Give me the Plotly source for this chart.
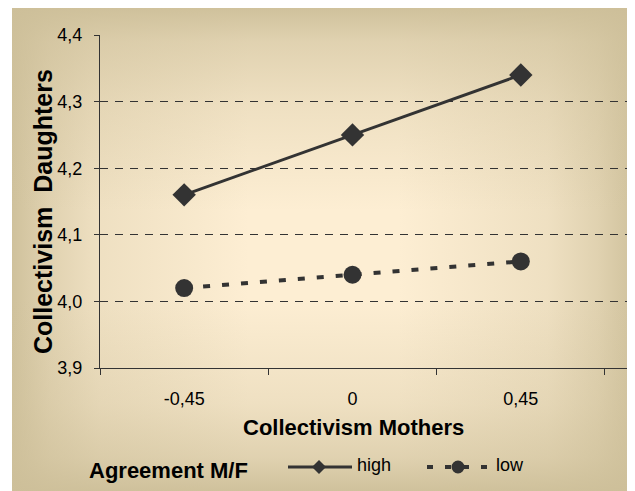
import base64
import plotly.graph_objects as go

# ---- data ----
categories = ["-0,45", "0", "0,45"]
high_values = [4.16, 4.25, 4.34]
low_values = [4.02, 4.04, 4.06]
y_ticks = [3.9, 4.0, 4.1, 4.2, 4.3, 4.4]
series_names = ["high", "low"]

# the page body has an 8px margin; figure coordinates = window coordinates - 8
OFF = 8
W, H = 635 - OFF, 491 - OFF
L, R, T, B = 100 - OFF, 635 - OFF, 35 - OFF, 368 - OFF  # plot area (figure px)
PW, PH = R - L, B - T


def px(xw):
    """window x pixel -> paper x"""
    return (xw - OFF - L) / PW


def py(yw):
    """window y pixel -> paper y"""
    return (B - (yw - OFF)) / PH


INK = "#333333"
FONT = "Liberation Sans, Arial, sans-serif"

# gradient background (Excel-like "from centre" fill)
tan = "#cdbf99"
svg = f"""<svg xmlns='http://www.w3.org/2000/svg' width='623' height='484' viewBox='0 0 623 484' preserveAspectRatio='none'>
<defs>
<linearGradient id='h' x1='0' y1='0' x2='1' y2='0'>
<stop offset='0' stop-color='{tan}' stop-opacity='0.95'/>
<stop offset='0.06' stop-color='{tan}' stop-opacity='0.6'/>
<stop offset='0.14' stop-color='{tan}' stop-opacity='0.3'/>
<stop offset='0.38' stop-color='{tan}' stop-opacity='0'/>
<stop offset='0.62' stop-color='{tan}' stop-opacity='0'/>
<stop offset='0.86' stop-color='{tan}' stop-opacity='0.3'/>
<stop offset='0.94' stop-color='{tan}' stop-opacity='0.6'/>
<stop offset='1' stop-color='{tan}' stop-opacity='0.95'/>
</linearGradient>
<linearGradient id='v' x1='0' y1='0' x2='0' y2='1'>
<stop offset='0' stop-color='{tan}' stop-opacity='0.95'/>
<stop offset='0.07' stop-color='{tan}' stop-opacity='0.6'/>
<stop offset='0.2' stop-color='{tan}' stop-opacity='0.3'/>
<stop offset='0.42' stop-color='{tan}' stop-opacity='0'/>
<stop offset='0.6' stop-color='{tan}' stop-opacity='0'/>
<stop offset='0.82' stop-color='{tan}' stop-opacity='0.3'/>
<stop offset='0.93' stop-color='{tan}' stop-opacity='0.6'/>
<stop offset='1' stop-color='{tan}' stop-opacity='0.95'/>
</linearGradient>
</defs>
<rect width='623' height='484' fill='#fdeed3'/>
<rect width='623' height='484' fill='url(#h)'/>
<rect width='623' height='484' fill='url(#v)'/>
</svg>"""
src = "data:image/svg+xml;base64," + base64.b64encode(svg.encode()).decode()

fig = go.Figure()
fig.add_trace(go.Scatter(
    x=categories, y=high_values, name=series_names[0], mode="lines+markers",
    line=dict(color=INK, width=3),
    marker=dict(symbol="diamond", size=18, color=INK),
    showlegend=False,
))
fig.add_trace(go.Scatter(
    x=categories, y=low_values, name=series_names[1], mode="lines+markers",
    line=dict(color=INK, width=4, dash="7px,12px"),
    marker=dict(symbol="circle", size=18, color=INK),
    showlegend=False,
))

fig.add_layout_image(dict(
    source=src, xref="paper", yref="paper",
    x=px(12), y=py(8), sizex=(635 - 12) / PW, sizey=(491 - 8) / PH,
    xanchor="left", yanchor="top", sizing="stretch", layer="below",
))

# manual legend (window pixel positions)
shapes = []
LY = 467
ly = py(LY)
shapes.append(dict(type="line", xref="paper", yref="paper",
                   x0=px(288), x1=px(352), y0=ly, y1=ly,
                   line=dict(color=INK, width=3)))
d = 7
shapes.append(dict(type="path", xref="paper", yref="paper",
                   path=f"M {px(319 - d)} {ly} L {px(319)} {py(LY - d)} L {px(319 + d)} {ly} L {px(319)} {py(LY + d)} Z",
                   fillcolor=INK, line=dict(color=INK, width=0)))
shapes.append(dict(type="line", xref="paper", yref="paper",
                   x0=px(427), x1=px(489), y0=ly, y1=ly,
                   line=dict(color=INK, width=4, dash="6px,12px")))
r = 6.5
shapes.append(dict(type="circle", xref="paper", yref="paper",
                   x0=px(458 - r), x1=px(458 + r), y0=py(LY + r), y1=py(LY - r),
                   fillcolor=INK, line=dict(color=INK, width=0)))

annotations = [
    dict(text="<b>Agreement M/F</b>", xref="paper", yref="paper", x=px(87), y=py(470),
         xanchor="left", yanchor="middle", showarrow=False,
         font=dict(family=FONT, size=22, color="#000")),
    dict(text=series_names[0], xref="paper", yref="paper", x=px(355), y=py(465),
         xanchor="left", yanchor="middle", showarrow=False,
         font=dict(family=FONT, size=18, color="#000")),
    dict(text=series_names[1], xref="paper", yref="paper", x=px(494), y=py(465),
         xanchor="left", yanchor="middle", showarrow=False,
         font=dict(family=FONT, size=18, color="#000")),
    dict(text="<b>Collectivism Mothers</b>", xref="paper", yref="paper", x=px(353), y=py(427),
         xanchor="center", yanchor="middle", showarrow=False,
         font=dict(family=FONT, size=22, color="#000")),
    dict(text="<b>Collectivism  Daughters</b>", xref="paper", yref="paper", x=px(43), y=py(212),
         xanchor="center", yanchor="middle", showarrow=False, textangle=-90,
         font=dict(family=FONT, size=25, color="#000")),
]

fig.update_layout(
    width=W, height=H,
    margin=dict(l=L, r=W - R, t=T, b=H - B, pad=0),
    paper_bgcolor="white", plot_bgcolor="rgba(0,0,0,0)",
    separators=",.",
    font=dict(family=FONT, size=18, color="#000"),
    shapes=shapes, annotations=annotations,
    showlegend=False,
)
fig.update_xaxes(
    type="category", range=[-0.5, 2.5 + 30 / (PW / 3.18)],
    showline=True, linecolor=INK, linewidth=1,
    ticks="outside", ticklen=6, tickcolor=INK, tickson="boundaries",
    showgrid=False, zeroline=False,
    ticklabelstandoff=14,
    tickfont=dict(family=FONT, size=18, color="#000"),
)
fig.update_yaxes(
    range=[3.9, 4.4], tickvals=y_ticks, tickformat=".1f",
    showline=True, linecolor=INK, linewidth=1,
    ticks="outside", ticklen=5, tickcolor=INK,
    showgrid=True, gridcolor=INK, gridwidth=1, griddash="8px,7px",
    zeroline=False,
    ticklabelstandoff=8,
    tickfont=dict(family=FONT, size=18, color="#000"),
)

fig.write_html("out.html")
